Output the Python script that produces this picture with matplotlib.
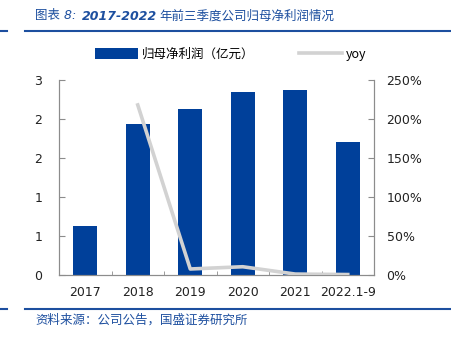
import numpy as np
import matplotlib.pyplot as plt
from matplotlib.patches import Patch
from matplotlib.lines import Line2D

plt.rcParams['font.family'] = ['DejaVu Sans', 'Noto Sans CJK SC']

categories = ['2017', '2018', '2019', '2020', '2021', '2022.1-9']
profit = [0.75, 2.33, 2.55, 2.81, 2.85, 2.04]          # 归母净利润 (亿元)
yoy_cats = ['2018', '2019', '2020', '2021', '2022.1-9']
yoy = [218, 7.7, 10.6, 1.2, 0.6]                        # %
left_ticks = [0, 0.6, 1.2, 1.8, 2.4, 3.0]
right_ticks = [0, 50, 100, 150, 200, 250]

blue = '#00409a'
title_blue = '#1d4f9f'
axis_gray = '#8c8c8c'
cjk = ['Noto Sans CJK SC', 'DejaVu Sans']

fig = plt.figure(figsize=(4.51, 3.37), dpi=100)
ax = fig.add_axes([59/451, 1-275/337, 315/451, 195/337])
ax2 = ax.twinx()

x = np.arange(len(categories))
ax.bar(x, profit, width=0.46, color=blue, zorder=2)
xi = [categories.index(c) for c in yoy_cats]
ax2.plot(xi, yoy, color='#d2d2d2', lw=2.6, zorder=3)

ax.set_xlim(-0.5, len(categories) - 0.5)
ax.set_ylim(0, 3)
ax2.set_ylim(0, 250)
ax.set_yticks(left_ticks)
ax.set_yticklabels([f'{v:.0f}' for v in left_ticks])
ax2.set_yticks(right_ticks)
ax2.set_yticklabels([f'{v}%' for v in right_ticks])
ax.set_xticks(x)
ax.set_xticklabels(categories)
ax.set_xticks(np.arange(-0.5, len(categories)), minor=True)

for a in (ax, ax2):
    for s in a.spines.values():
        s.set_color(axis_gray)
        s.set_linewidth(0.8)
    a.spines['top'].set_visible(False)
ax.tick_params(axis='x', which='major', length=0, pad=8, labelsize=9, colors='#222222')
ax.tick_params(axis='x', which='minor', direction='in', length=3, color=axis_gray)
ax.tick_params(axis='y', direction='in', length=4, pad=12, labelsize=9,
               color=axis_gray, labelcolor='#222222')
ax2.tick_params(axis='y', direction='in', length=4, pad=9, labelsize=9,
                color=axis_gray, labelcolor='#222222')

handles = [Patch(facecolor=blue, edgecolor='none'),
           Line2D([0], [0], color='#d2d2d2', lw=2.6)]
ax.legend(handles, ['归母净利润（亿元）', 'yoy'], loc='center',
          bbox_to_anchor=(0.545, 1.13), ncol=2, frameon=False,
          prop={'family': cjk, 'size': 9},
          handlelength=3.4, handleheight=1.0, columnspacing=3.6, handletextpad=0.3)

# title in three pieces: label / bold years / rest
t1 = fig.text(35/451, 1-16/337, '图表 8:', fontsize=9, style='italic',
              color=title_blue, va='center', family=['DejaVu Sans', 'Noto Sans CJK SC'])
t2 = ax.annotate('2017-2022', xy=(1, 0.5), xycoords=t1, xytext=(4, 0),
                 textcoords='offset points', va='center', fontsize=9,
                 style='italic', weight='bold', color=title_blue, annotation_clip=False)
ax.annotate('年前三季度公司归母净利润情况', xy=(1, 0.5), xycoords=t2, xytext=(2, 0),
            textcoords='offset points', va='center', fontsize=9, family=cjk,
            color=title_blue, annotation_clip=False)

for yy in (31, 309):
    fig.add_artist(Line2D([25/451, 1], [1-yy/337] * 2, color=title_blue, lw=1.5))
    fig.add_artist(Line2D([0, 7/451], [1-yy/337] * 2, color=title_blue, lw=1.5))
fig.text(35/451, 1-320/337, '资料来源：公司公告，国盛证券研究所',
         fontsize=9, color=title_blue, va='center', family=cjk)

fig.savefig('out.png', dpi=100)
